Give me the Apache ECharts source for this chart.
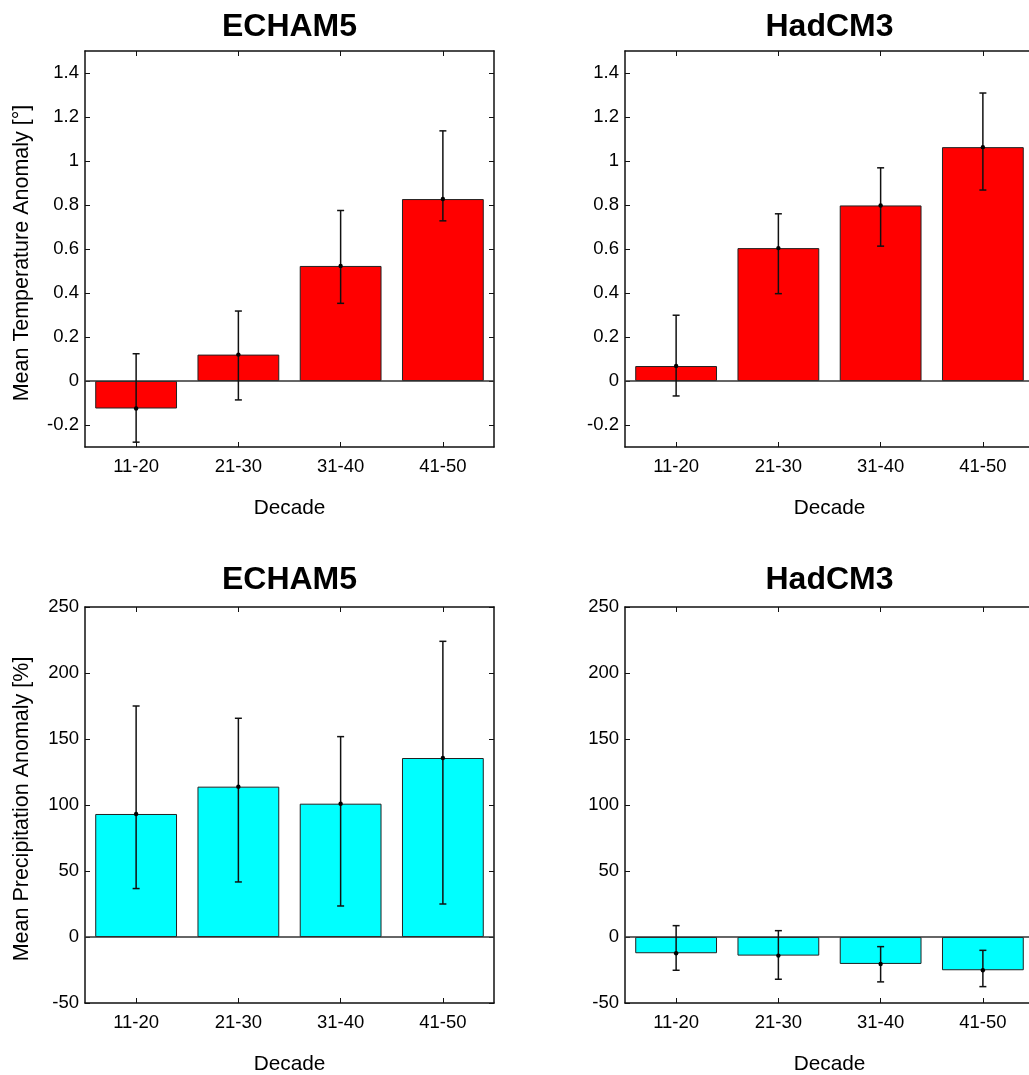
<!DOCTYPE html>
<html>
<head>
<meta charset="utf-8">
<script src="https://cdn.jsdelivr.net/npm/echarts@6/dist/echarts.min.js"></script>
<style>html,body{margin:0;padding:0;background:#fff}#c{width:1029px;height:1075px}</style>
</head>
<body>
<div id="c"></div>
<script>
const categories = ['11-20', '21-30', '31-40', '41-50'];

const echamTemp = [-0.125, 0.12, 0.523, 0.827];
const echamTempLow = [-0.278, -0.086, 0.353, 0.728];
const echamTempHigh = [0.124, 0.318, 0.775, 1.137];

const hadTemp = [0.068, 0.604, 0.798, 1.063];
const hadTempLow = [-0.068, 0.397, 0.613, 0.868];
const hadTempHigh = [0.299, 0.76, 0.969, 1.309];

const echamPrecip = [93.2, 113.9, 101, 135.6];
const echamPrecipLow = [36.7, 41.7, 23.5, 25];
const echamPrecipHigh = [175, 165.7, 151.8, 224];

const hadPrecip = [-12.3, -14.1, -20.4, -25.2];
const hadPrecipLow = [-25.2, -32, -34, -37.6];
const hadPrecipHigh = [8.6, 4.8, -7.3, -10.1];

const tempTicks = [-0.2, 0, 0.2, 0.4, 0.6, 0.8, 1, 1.2, 1.4];
const precipTicks = [-50, 0, 50, 100, 150, 200, 250];

const titles = ['ECHAM5', 'HadCM3', 'ECHAM5', 'HadCM3'];
const xName = 'Decade';
const tempYName = 'Mean Temperature Anomaly [°]';
const precipYName = 'Mean Precipitation Anomaly [%]';

const FONT = 'Liberation Sans, Arial, Helvetica, sans-serif';

const panels = [
  {left: 85, top: 51, titleY: 27.5, mean: echamTemp, low: echamTempLow, high: echamTempHigh, color: '#ff0000', min: -0.3, max: 1.5, ticks: tempTicks, yName: tempYName},
  {left: 625, top: 51, titleY: 27.5, mean: hadTemp, low: hadTempLow, high: hadTempHigh, color: '#ff0000', min: -0.3, max: 1.5, ticks: tempTicks, yName: ''},
  {left: 85, top: 607, titleY: 580, mean: echamPrecip, low: echamPrecipLow, high: echamPrecipHigh, color: '#00ffff', min: -50, max: 250, ticks: precipTicks, yName: precipYName},
  {left: 625, top: 607, titleY: 580, mean: hadPrecip, low: hadPrecipLow, high: hadPrecipHigh, color: '#00ffff', min: -50, max: 250, ticks: precipTicks, yName: ''}
];
const W = 409, H = 396;

function errRender(params, api) {
  const x = api.value(0);
  const lo = api.coord([x, api.value(1)]);
  const hi = api.coord([x, api.value(2)]);
  const mid = api.coord([x, api.value(3)]);
  const w = 3.5;
  const st = {stroke: '#111', lineWidth: 1.5};
  return {type: 'group', children: [
    {type: 'line', shape: {x1: lo[0], y1: lo[1], x2: hi[0], y2: hi[1]}, style: st},
    {type: 'line', shape: {x1: lo[0] - w, y1: lo[1], x2: lo[0] + w, y2: lo[1]}, style: st},
    {type: 'line', shape: {x1: hi[0] - w, y1: hi[1], x2: hi[0] + w, y2: hi[1]}, style: st},
    {type: 'circle', shape: {cx: mid[0], cy: mid[1], r: 2.2}, style: {fill: '#000'}}
  ]};
}

const grid = [], xAxis = [], yAxis = [], series = [], graphic = [];
const lineStyle = {color: '#111', width: 1.5};
panels.forEach((p, i) => {
  grid.push({left: p.left, top: p.top, width: W, height: H, containLabel: false, outerBoundsMode: 'none'});
  xAxis.push({
    type: 'category', gridIndex: i, data: categories, position: 'bottom',
    axisLine: {show: true, onZero: false, lineStyle},
    axisTick: {show: true, inside: true, length: 5, alignWithLabel: true, lineStyle: {color: '#111', width: 1}},
    axisLabel: {show: true, color: '#000', fontSize: 18.5, fontFamily: FONT, margin: 10},
    name: xName, nameLocation: 'middle', nameGap: 51,
    nameTextStyle: {color: '#000', fontSize: 20.8, fontFamily: FONT},
    splitLine: {show: false}
  });
  xAxis.push({
    type: 'category', gridIndex: i, data: categories, position: 'top',
    axisLine: {show: true, onZero: false, lineStyle},
    axisTick: {show: true, inside: true, length: 5, alignWithLabel: true, lineStyle: {color: '#111', width: 1}},
    axisLabel: {show: false}, splitLine: {show: false}
  });
  const yBase = {
    type: 'value', gridIndex: i, min: p.min, max: p.max,
    axisLine: {show: true, onZero: false, lineStyle},
    axisTick: {show: true, inside: true, length: 5, customValues: p.ticks, lineStyle: {color: '#111', width: 1}},
    splitLine: {show: false}
  };
  yAxis.push(Object.assign({}, yBase, {
    position: 'left',
    axisLabel: {show: true, customValues: p.ticks, color: '#000', fontSize: 18.5, fontFamily: FONT, margin: 6},
    name: p.yName, nameLocation: 'middle', nameGap: 52, nameRotate: 90,
    nameTextStyle: {color: '#000', fontSize: 21.5, fontFamily: FONT, padding: [0, 0, 0, -8]}
  }));
  yAxis.push(Object.assign({}, yBase, {position: 'right', axisLabel: {show: false}}));

  series.push({
    type: 'bar', xAxisIndex: 2 * i, yAxisIndex: 2 * i, data: p.mean, barWidth: '80%',
    itemStyle: {color: p.color, borderColor: '#222', borderWidth: 1},
    silent: true, z: 2,
    markLine: {silent: true, symbol: 'none', label: {show: false}, data: [{yAxis: 0}],
      lineStyle: {color: '#333', width: 1.5, type: 'solid'}, animation: false}
  });
  series.push({
    type: 'custom', xAxisIndex: 2 * i, yAxisIndex: 2 * i, renderItem: errRender, z: 5,
    encode: {x: 0, y: [1, 2]},
    data: categories.map((c, k) => [k, p.low[k], p.high[k], p.mean[k]])
  });
  graphic.push({type: 'text', x: p.left + W / 2, y: p.titleY, z: 10,
    style: {text: titles[i], fontSize: 32, fontWeight: 'bold', fontFamily: FONT, fill: '#000', align: 'center', verticalAlign: 'middle'}});
});

const chart = echarts.init(document.getElementById('c'), null, {renderer: 'canvas'});
chart.setOption({animation: false, backgroundColor: '#fff', grid, xAxis, yAxis, series, graphic});
</script>
</body>
</html>
